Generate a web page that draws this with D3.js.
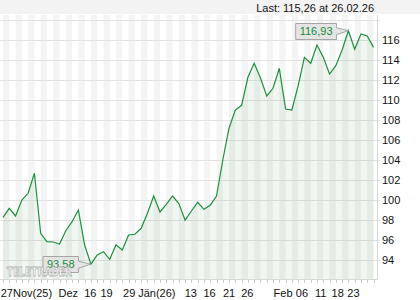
<!DOCTYPE html>
<html>
<head>
<meta charset="utf-8">
<script src="https://cdn.jsdelivr.net/npm/d3@7"></script>
<style>
  body { margin: 0; background: #fff; }
  svg { display: block; font-family: "Liberation Sans", Arial, sans-serif; }
</style>
</head>
<body>
<div id="chart"></div>
<script>
// closing prices, one per trading day
const values = [98.27, 99.17, 98.4, 100.0, 100.67, 102.67, 96.67, 95.83, 95.8, 95.6,
    96.93, 97.83, 99.0, 95.5, 93.58, 94.5, 94.83, 94.07, 95.53, 95.0,
    96.5, 96.57, 97.17, 98.67, 100.4, 98.8, 99.57, 100.4, 99.65, 97.98,
    98.9, 99.77, 99.07, 99.48, 100.4, 104.0, 107.2, 109.0, 109.47, 112.27,
    113.68, 112.2, 110.4, 111.17, 113.17, 109.1, 109.0, 111.43, 114.27, 113.67,
    115.5, 114.27, 112.6, 113.43, 115.0, 116.93, 115.07, 116.6, 116.4, 115.26];

// x-axis labels and where they sit (in data index units)
const tickLabels = ["27", "Nov(25)", "Dez", "16", "19", "29", "Jän(26)", "13", "16", "21", "26", "Feb", "06", "11", "18", "23"];
const tickAt = [0.6, 4.7, 10.4, 13.9, 16.5, 20.1, 24.5, 29.9, 32.9, 36.0, 38.9, 44.6, 47.6, 50.6, 53.3, 55.8];

const yLabels = [94, 96, 98, 100, 102, 104, 106, 108, 110, 112, 114, 116];
const yGrid = [94, 96, 98, 100, 102, 104, 106, 108, 110, 112, 114, 116, 118];

const lastDate = "26.02.26";
const watermark = "TELETRADER";

const W = 420, H = 300;
const plot = {left: 0, right: 377, top: 15, bottom: 279};

const fmt = v => d3.format(".2f")(v).replace(".", ",");

const svg = d3.select("#chart")
    .append("svg")
    .attr("width", W)
    .attr("height", H);

const x = d3.scaleLinear()
    .domain([0, values.length - 1])
    .range([3, 373.5]);

const y = d3.scaleLinear()
    .domain([92.1, 118.5])
    .range([plot.bottom, plot.top]);

// header band
svg.append("rect")
    .attr("x", 0).attr("y", 0)
    .attr("width", W).attr("height", 14)
    .style("fill", "#f3f3f3");

svg.append("text")
    .attr("x", 374)
    .attr("y", 11.5)
    .attr("text-anchor", "end")
    .style("font-size", "11px")
    .style("fill", "#111")
    .text("Last: " + fmt(values[values.length - 1]) + " at " + lastDate);

// alternating day stripes
const stripes = d3.range(0, values.length - 1, 2);
svg.selectAll(".stripe")
    .data(stripes)
    .enter()
    .append("rect")
    .attr("class", "stripe")
    .attr("x", d => x(d))
    .attr("y", plot.top)
    .attr("width", d => x(d + 1) - x(d))
    .attr("height", plot.bottom - plot.top)
    .style("fill", "#f4f4f4");

// horizontal grid
svg.selectAll(".grid")
    .data(yGrid)
    .enter()
    .append("line")
    .attr("class", "grid")
    .attr("x1", plot.left)
    .attr("x2", plot.right + 3)
    .attr("y1", d => Math.round(y(d)) + 0.5)
    .attr("y2", d => Math.round(y(d)) + 0.5)
    .style("stroke", "#e2e2e2");

// area + line
const area = d3.area()
    .x((d, i) => x(i))
    .y0(plot.bottom)
    .y1(d => y(d));

const line = d3.line()
    .x((d, i) => x(i))
    .y(d => y(d));

svg.append("path")
    .datum(values)
    .attr("d", area)
    .style("fill", "#2f8f3f")
    .style("fill-opacity", 0.075);

svg.append("path")
    .datum(values)
    .attr("d", line)
    .style("fill", "none")
    .style("stroke", "#1f8f3f")
    .style("stroke-width", 1.2);

// frame: bottom and right
svg.append("line")
    .attr("x1", plot.left).attr("x2", plot.right + 0.5)
    .attr("y1", plot.bottom + 0.5).attr("y2", plot.bottom + 0.5)
    .style("stroke", "#d8d8d8");

svg.append("line")
    .attr("x1", plot.right + 0.5).attr("x2", plot.right + 0.5)
    .attr("y1", plot.top).attr("y2", plot.bottom + 0.5)
    .style("stroke", "#d8d8d8");

// small day ticks
svg.selectAll(".dtick")
    .data(d3.range(values.length))
    .enter()
    .append("line")
    .attr("class", "dtick")
    .attr("x1", d => Math.round(x(d)) + 0.5)
    .attr("x2", d => Math.round(x(d)) + 0.5)
    .attr("y1", plot.bottom + 1)
    .attr("y2", plot.bottom + 4)
    .style("stroke", "#cfcfcf");

// x labels
svg.selectAll(".xlabel")
    .data(tickLabels)
    .enter()
    .append("text")
    .attr("class", "xlabel")
    .attr("x", (d, i) => x(tickAt[i]))
    .attr("y", 296.5)
    .attr("text-anchor", "middle")
    .style("font-size", "11px")
    .style("fill", "#111")
    .text(d => d);

// y labels on the right
svg.selectAll(".ylabel")
    .data(yLabels)
    .enter()
    .append("text")
    .attr("class", "ylabel")
    .attr("x", 382)
    .attr("y", d => y(d))
    .attr("dy", ".36em")
    .style("font-size", "11px")
    .style("fill", "#111")
    .text(d => d);

// callouts for max and min
function callout(i) {
    const px = x(i), py = y(values[i]);
    const g = svg.append("g");
    const shape = g.append("path");
    const label = g.append("text")
        .attr("y", py)
        .attr("dy", ".36em")
        .attr("text-anchor", "middle")
        .style("font-size", "11px")
        .style("fill", "#1a8a3a")
        .text(fmt(values[i]));
    const tw = label.node().getComputedTextLength();
    const x2 = Math.round(px - 12.5) + 0.5;
    const x1 = x2 - tw - 8;
    const y1 = Math.round(py - 8) + 0.5, y2 = y1 + 16;
    label.attr("x", (x1 + x2) / 2);
    shape.attr("d", "M" + x1 + "," + y1 + "H" + x2 + "V" + (py - 3) +
            "L" + px + "," + py + "L" + x2 + "," + (py + 4) + "V" + y2 + "H" + x1 + "Z")
        .style("fill", "#e4e4e4")
        .style("stroke", "#a6a6a6");
}

callout(d3.maxIndex(values));
callout(d3.minIndex(values));

// watermark
svg.append("text")
    .attr("x", 7)
    .attr("y", 275.5)
    .attr("textLength", 65)
    .attr("lengthAdjust", "spacingAndGlyphs")
    .style("font-family", "DejaVu Sans")
    .style("font-weight", "bold")
    .style("font-size", "13px")
    .style("fill", "#fff")
    .style("fill-opacity", 0.85)
    .style("stroke", "#b0b0b0")
    .style("stroke-width", 0.8)
    .text(watermark);
</script>
</body>
</html>
